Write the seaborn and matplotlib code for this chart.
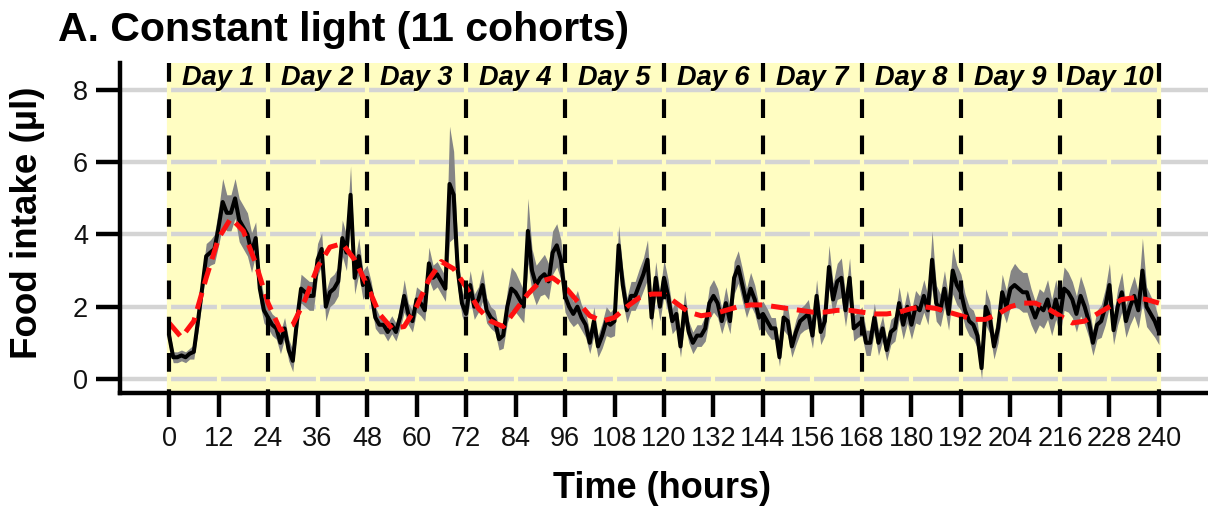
import numpy as np
import pandas as pd
import matplotlib
matplotlib.use("Agg")
import matplotlib.pyplot as plt
import seaborn as sns

# ---------------- data ----------------
day_ticks = list(range(0, 241, 24))
x_ticks = list(range(0, 241, 12))
y_ticks = [0, 2, 4, 6, 8]
day_labels = [f"Day {i}" for i in range(1, 11)]

# hourly mean food intake (µl), hours 0..240
intake_d1 = [1.2, 0.6, 0.6, 0.65, 0.6, 0.7, 0.75, 1.6, 2.5, 3.4, 3.5, 3.6, 4.2, 4.9, 4.6, 4.6, 5.0, 4.4, 4.2, 4.0, 3.5, 3.9, 2.5, 1.9]
intake_d2 = [1.7, 1.5, 1.4, 1.0, 1.4, 0.8, 0.5, 1.6, 2.5, 2.4, 2.3, 2.3, 3.3, 3.6, 2.0, 2.4, 2.5, 2.7, 3.9, 3.5, 5.1, 2.8, 3.4, 2.6]
intake_d3 = [2.8, 2.4, 1.7, 1.5, 1.5, 1.3, 1.5, 1.3, 1.7, 2.3, 1.8, 1.6, 2.2, 2.1, 1.9, 3.2, 2.8, 2.9, 2.7, 2.5, 5.4, 5.1, 3.0, 2.1]
intake_d4 = [1.8, 2.6, 2.0, 2.2, 2.6, 1.9, 1.7, 1.6, 1.1, 1.2, 2.0, 2.5, 2.4, 2.2, 2.0, 4.1, 3.0, 2.6, 2.8, 2.9, 2.7, 3.5, 3.7, 3.3]
intake_d5 = [2.3, 2.0, 1.8, 2.0, 1.7, 1.5, 1.0, 1.6, 0.9, 1.2, 1.6, 1.5, 1.6, 3.7, 2.6, 1.9, 2.3, 2.3, 2.6, 2.9, 3.3, 1.7, 2.8, 2.0]
intake_d6 = [2.8, 2.3, 1.6, 1.8, 0.9, 2.0, 1.3, 1.0, 1.2, 1.2, 1.4, 2.1, 2.3, 2.1, 1.6, 2.1, 1.6, 2.8, 3.1, 2.6, 2.1, 2.5, 2.2, 1.7]
intake_d7 = [1.8, 1.6, 1.4, 1.4, 0.6, 1.7, 1.6, 0.9, 1.3, 1.6, 1.7, 1.8, 1.2, 2.3, 1.3, 1.6, 3.1, 2.2, 2.7, 2.8, 1.9, 2.8, 1.4, 1.5]
intake_d8 = [1.6, 1.0, 1.0, 1.7, 1.0, 1.4, 0.8, 1.3, 1.4, 2.1, 1.5, 2.0, 1.5, 2.0, 1.9, 2.3, 1.9, 3.3, 2.1, 1.9, 2.5, 1.8, 3.0, 2.6]
intake_d9 = [2.4, 1.9, 1.6, 1.5, 1.2, 0.3, 2.0, 1.7, 0.9, 1.4, 2.4, 2.0, 2.5, 2.6, 2.5, 2.4, 2.4, 2.0, 1.7, 2.0, 1.9, 2.2, 1.7, 2.2]
intake_d10 = [1.7, 2.5, 2.4, 2.2, 1.8, 2.3, 2.0, 1.6, 1.0, 1.5, 1.6, 2.0, 2.6, 1.35, 2.0, 2.4, 1.6, 2.0, 2.3, 1.9, 3.0, 2.0, 1.8, 1.6, 1.3]

# standard error of the mean (µl), hours 0..240
sem_d1 = [0.3, 0.15, 0.15, 0.15, 0.15, 0.15, 0.2, 0.3, 0.35, 0.35, 0.35, 0.4, 0.5, 0.65, 0.5, 0.5, 0.55, 0.6, 0.6, 0.6, 0.55, 0.45, 0.4, 0.35]
sem_d2 = [0.3, 0.3, 0.3, 0.3, 0.3, 0.3, 0.3, 0.3, 0.4, 0.4, 0.4, 0.4, 0.45, 0.45, 0.4, 0.4, 0.4, 0.4, 0.5, 0.5, 0.8, 0.45, 0.5, 0.4]
sem_d3 = [0.35, 0.3, 0.3, 0.25, 0.25, 0.25, 0.25, 0.25, 0.3, 0.45, 0.3, 0.3, 0.35, 0.35, 0.3, 0.45, 0.35, 0.35, 0.35, 0.35, 1.6, 1.2, 0.5, 0.35]
sem_d4 = [0.35, 0.4, 0.35, 0.35, 0.45, 0.35, 0.3, 0.3, 0.3, 0.35, 0.45, 0.6, 0.55, 0.5, 0.45, 0.9, 0.6, 0.55, 0.5, 0.55, 0.5, 0.6, 0.6, 0.55]
sem_d5 = [0.45, 0.4, 0.35, 0.45, 0.35, 0.35, 0.3, 0.4, 0.3, 0.35, 0.4, 0.35, 0.4, 0.55, 0.45, 0.35, 0.4, 0.4, 0.45, 0.45, 0.55, 0.35, 0.45, 0.4]
sem_d6 = [0.5, 0.45, 0.35, 0.4, 0.3, 0.45, 0.3, 0.3, 0.3, 0.3, 0.35, 0.45, 0.45, 0.4, 0.35, 0.45, 0.35, 0.45, 0.45, 0.45, 0.4, 0.45, 0.4, 0.35]
sem_d7 = [0.35, 0.35, 0.3, 0.3, 0.25, 0.35, 0.4, 0.3, 0.35, 0.35, 0.35, 0.4, 0.35, 0.45, 0.35, 0.4, 0.6, 0.45, 0.5, 0.55, 0.45, 0.55, 0.35, 0.35]
sem_d8 = [0.4, 0.35, 0.35, 0.4, 0.35, 0.35, 0.3, 0.35, 0.35, 0.45, 0.4, 0.45, 0.4, 0.45, 0.4, 0.45, 0.4, 0.8, 0.5, 0.45, 0.5, 0.45, 0.65, 0.55]
sem_d9 = [0.5, 0.45, 0.4, 0.4, 0.35, 0.3, 0.5, 0.45, 0.35, 0.4, 0.5, 0.45, 0.5, 0.6, 0.55, 0.55, 0.55, 0.5, 0.45, 0.5, 0.5, 0.55, 0.5, 0.55]
sem_d10 = [0.5, 0.6, 0.55, 0.5, 0.5, 0.55, 0.5, 0.45, 0.35, 0.4, 0.45, 0.5, 0.6, 0.4, 0.5, 0.55, 0.45, 0.5, 0.55, 0.5, 0.9, 0.55, 0.5, 0.45, 0.35]

# fitted rhythm (red dashed), every 3 hours from 0 to 240
fit_hours = list(range(0, 241, 3))
fit_values = [1.55, 1.15, 1.6, 2.8, 3.9, 4.45, 4.1, 3.2, 2.1, 1.35,
              1.5, 2.2, 3.1, 3.65, 3.75, 3.3, 2.6, 1.8, 1.4, 1.45,
              2.0, 2.75, 3.25, 3.05, 2.55, 1.95, 1.6, 1.45, 1.9, 2.35,
              2.7, 2.8, 2.55, 2.15, 1.75, 1.6, 1.7, 2.0, 2.25, 2.35,
              2.35, 2.1, 1.85, 1.75, 1.8, 1.9, 2.0, 2.05, 2.05, 2.0,
              1.95, 1.9, 1.85, 1.85, 1.9, 1.9, 1.85, 1.8, 1.8, 1.85,
              1.95, 2.0, 1.95, 1.85, 1.75, 1.65, 1.65, 1.8, 2.0, 2.1,
              2.1, 1.95, 1.75, 1.55, 1.6, 1.8, 2.0, 2.2, 2.25, 2.2,
              2.1]

intake = (intake_d1 + intake_d2 + intake_d3 + intake_d4 + intake_d5 +
          intake_d6 + intake_d7 + intake_d8 + intake_d9 + intake_d10)
sem = (sem_d1 + sem_d2 + sem_d3 + sem_d4 + sem_d5 +
       sem_d6 + sem_d7 + sem_d8 + sem_d9 + sem_d10)
hours = list(range(len(intake)))

df = pd.DataFrame({"hour": hours, "intake": intake, "sem": sem})
df["lo"] = df["intake"] - df["sem"]
df["hi"] = df["intake"] + df["sem"]
fit_df = pd.DataFrame({"hour": fit_hours, "fit": fit_values})

# ---------------- style ----------------
sns.set_theme(style="white")
plt.rcParams['font.family'] = ['Liberation Sans', 'DejaVu Sans']

YELLOW = "#FFFDC2"
GRID = "#D4D4D4"

W, H = 1208, 508
fig = plt.figure(figsize=(W / 100, H / 100), dpi=100)
fig.patch.set_facecolor("white")
ax = fig.add_axes([120 / W, (H - 393) / H, (W - 120) / W, 330 / H])
ax.set_facecolor("white")

XMIN, XMAX = -11.9, 251.9
YMIN, YMAX = -0.39, 8.75
ax.set_xlim(XMIN, XMAX)
ax.set_ylim(YMIN, YMAX)

# light period background
ax.axvspan(day_ticks[0], day_ticks[-1], color=YELLOW, lw=0, zorder=0)

# horizontal grid lines with small breaks every 12 h
for y in y_ticks:
    ax.axhline(y, color=GRID, lw=3.2, zorder=0.5)
for x in x_ticks:
    ax.axvline(x, color=YELLOW, lw=3.0, zorder=0.6)

# SEM ribbon
ax.fill_between(df["hour"], df["lo"], df["hi"], color="#858585", lw=0, zorder=2)

# mean line
sns.lineplot(data=df, x="hour", y="intake", color="black", lw=2.9,
             ax=ax, zorder=3, errorbar=None)

# fitted rhythm
sns.lineplot(data=fit_df, x="hour", y="fit", color="#FF1010", lw=3.6,
             ax=ax, zorder=4, errorbar=None)
ax.lines[-1].set_linestyle((0, (3.4, 1.8)))
ax.lines[-1].set_dash_capstyle("butt")

# day boundaries
for x in day_ticks:
    ax.plot([x, x], [YMAX, YMIN], color="black", lw=3,
            linestyle=(0, (4.5, 4.2)), dash_capstyle="butt", zorder=5)

# day labels
for i, lab in enumerate(day_labels):
    ax.text(day_ticks[i] + 12, 8.34, lab, ha="center", va="center",
            fontsize=19.5, fontweight="bold", fontstyle="italic",
            color="black", zorder=6)

# axes, ticks
ax.set_xticks(x_ticks)
ax.set_xticklabels([str(v) for v in x_ticks])
ax.set_yticks(y_ticks)
ax.set_yticklabels([str(v) for v in y_ticks])
ax.tick_params(axis="both", which="major", length=17, width=3.2,
               color="black", labelsize=19.5, labelcolor="#111111",
               direction="out", bottom=True, left=True)
ax.tick_params(axis="x", pad=7)
ax.tick_params(axis="y", pad=6)
for side in ["top", "right"]:
    ax.spines[side].set_visible(False)
for side in ["left", "bottom"]:
    ax.spines[side].set_visible(True)
    ax.spines[side].set_color("black")
    ax.spines[side].set_linewidth(3.2)
ax.set_xlabel("")
ax.set_ylabel("")
ax.grid(False)

# texts
fig.text(58 / W, 1 - 41 / H, "A. Constant light (11 cohorts)", ha="left",
         va="baseline", fontsize=29.5, fontweight="bold", color="black")
fig.text(662 / W, 1 - 488 / H, "Time (hours)", ha="center", va="center",
         fontsize=26, fontweight="bold", color="black")
fig.text(28 / W, 1 - 223 / H, "Food intake (µl)", ha="center", va="center",
         rotation=90, fontsize=26.5, fontweight="bold", color="black")

fig.savefig("out.png", dpi=100, facecolor="white")
